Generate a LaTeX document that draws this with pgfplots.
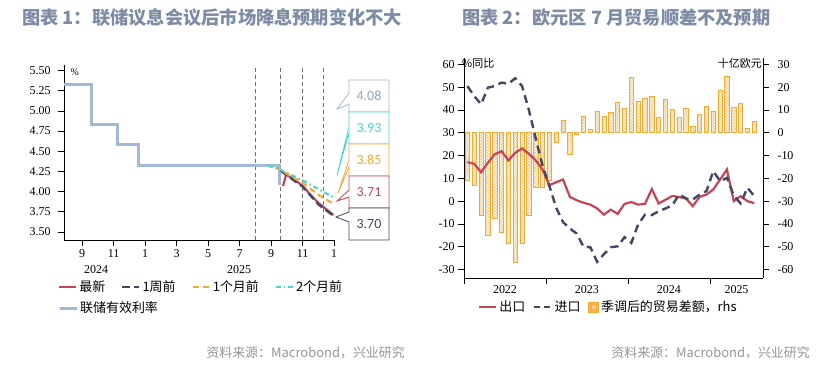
\documentclass[border=0pt]{standalone}
\usepackage{fontspec}
\setmainfont{Liberation Serif}
\newfontfamily\cjk{Noto Sans CJK SC}
\newfontfamily\boxfont{Carlito}
\usepackage{pgfplots}
\usepackage{pgfplotstable}
\pgfplotsset{compat=1.18}
\usetikzlibrary{patterns}

\definecolor{titlec}{RGB}{125,140,165}
\definecolor{srcc}{RGB}{150,150,150}
\definecolor{redc}{RGB}{200,68,85}
\definecolor{navyc}{RGB}{64,72,100}
\definecolor{orangec}{RGB}{245,168,50}
\definecolor{tealc}{RGB}{72,214,208}
\definecolor{fedc}{RGB}{160,185,212}
\definecolor{vgray}{RGB}{110,110,110}

\pgfplotstableread{
x bal exp imp
0.5 -20.9 17.1 50.5
1.5 -23.1 16.4 46.1
2.5 -36.2 12.7 42.5
3.5 -45.1 16.8 49.8
4.5 -37.6 20.6 50.5
5.5 -43.6 21.9 52.0
6.5 -48.3 17.9 51.5
7.5 -56.7 21.2 53.9
8.5 -48.6 23.1 50.5
9.5 -36.2 20.8 40.0
10.5 -23.9 17.9 27.5
11.5 -23.9 13.9 15.7
12.5 -20.9 7.0 6.6
13.5 -4.4 8.3 -2.9
14.5 5.4 9.5 -9.2
15.5 -9.5 1.9 -12.0
16.5 -0.5 0.4 -14.2
17.5 7.0 -0.7 -20.0
18.5 1.3 -1.5 -20.2
19.5 9.2 -3.2 -26.6
20.5 7.2 -5.9 -23.2
21.5 9.1 -3.7 -20.2
22.5 13.2 -5.6 -19.8
23.5 10.5 -1.2 -15.8
24.5 24.3 -0.4 -18.3
25.5 13.9 -1.5 -10.2
26.5 14.9 -1.2 -5.9
27.5 16.0 5.3 -6.1
28.5 6.7 -1.0 -4.4
29.5 14.5 0.6 -3.2
30.5 10.1 2.3 -1.8
31.5 6.9 1.8 2.9
32.5 10.7 1.2 1.2
33.5 2.9 -2.2 0.7
34.5 8.1 1.9 2.9
35.5 11.7 2.9 4.4
36.5 9.4 5.1 13.2
37.5 18.6 9.5 8.8
38.5 24.9 13.9 10.2
39.5 11.3 0.0 2.5
40.5 12.7 2.2 -1.0
41.5 1.8 0.0 5.9
42.5 4.8 -0.9 2.2
}\tradetab

\pgfplotsset{
  leftax/.style={scale only axis, width=271bp, height=175bp,
    xmin=6.857, xmax=24.05, ymin=3.40, ymax=5.57,
    at={(64bp,-240bp)}, anchor=south west, clip=false},
  rightax/.style={scale only axis, width=299bp, height=220bp,
    xmin=0, xmax=43.78,
    at={(464bp,-278bp)}, anchor=south west},
  ticky/.style={tick align=outside, major tick length=6bp,
    tick style={black, line width=0.7bp},
    axis line style={black, line width=0.7bp, -},
    tick label style={font=\fontsize{12}{14}\selectfont, /pgf/number format/assume math mode=true}},
}

\begin{document}
\begin{tikzpicture}
\path[use as bounding box, fill=white] (0,0) rectangle (832bp,-365bp);

% ---------------- Left chart ----------------
\begin{axis}[leftax, ticky,
  axis x line*=bottom, axis y line*=left,
  xtick={8,10,12,14,16,18,20,22,24},
  xticklabels={9,11,1,3,5,7,9,11,1},
  extra x ticks={8.89,17.97},
  extra x tick labels={2024,2025},
  extra x tick style={major tick length=0pt, xticklabel style={yshift=-22bp}},
  ytick={3.5,3.75,4,4.25,4.5,4.75,5,5.25,5.5},
  yticklabel style={xshift=-4bp, /pgf/number format/.cd, fixed, fixed zerofill, precision=2},
  legend style={at={(-0.022,-0.389)}, anchor=west, draw=none, fill=none,
    font=\cjk\fontsize{13}{15}\selectfont, inner sep=0pt},
  legend cell align=left,
]
\addplot[vgray, line width=0.8bp, dash pattern=on 4bp off 3bp, forget plot] coordinates {(18.98,3.40) (18.98,5.57)};
\addplot[vgray, line width=0.8bp, dash pattern=on 4bp off 3bp, forget plot] coordinates {(20.57,3.40) (20.57,5.57)};
\addplot[vgray, line width=0.8bp, dash pattern=on 4bp off 3bp, forget plot] coordinates {(21.97,3.40) (21.97,5.57)};
\addplot[vgray, line width=0.8bp, dash pattern=on 4bp off 3bp, forget plot] coordinates {(23.30,3.40) (23.30,5.57)};
\addplot[fedc, line width=3bp] coordinates {(6.857,5.33) (8.57,5.33) (8.57,4.83) (10.23,4.83) (10.23,4.58) (11.58,4.58) (11.58,4.33) (20.55,4.33) (20.55,4.08)};
\addlegendentry{联储有效利率}
\end{axis}

\begin{axis}[leftax, hide axis,
  legend columns=4,
  legend style={at={(-0.022,-0.269)}, anchor=west, draw=none, fill=none,
    font=\cjk\fontsize{13}{15}\selectfont, inner sep=0pt,
    /tikz/every even column/.append style={column sep=14bp}},
  legend cell align=left,
]
\addplot[redc, line width=2.2bp] coordinates {(20.75,4.07) (20.95,4.21) (21.4,4.16) (22.0,4.07) (22.5,3.96) (23.0,3.86) (23.95,3.71)};
\addplot[navyc, line width=2.2bp, dash pattern=on 8bp off 4bp] coordinates {(20.6,4.26) (21.0,4.20) (22.0,4.06) (22.5,3.95) (23.0,3.84) (23.95,3.70)};
\addplot[orangec, line width=2.2bp, dash pattern=on 6bp off 4bp] coordinates {(20.3,4.30) (21.0,4.22) (22.0,4.11) (23.0,3.96) (23.95,3.85)};
\addplot[tealc, line width=2.2bp, dash pattern=on 5bp off 3bp on 1.5bp off 3bp] coordinates {(19.8,4.32) (20.5,4.28) (21.0,4.23) (22.0,4.14) (23.0,4.03) (23.95,3.93)};
\legend{最新,1周前,1个月前,2个月前}
\end{axis}

% callout boxes
\begin{scope}[line width=0.8bp]
\filldraw[fill=white, draw=fedc] (349bp,-80bp) -- (389bp,-80bp) -- (389bp,-112bp) -- (349bp,-112bp) -- (349bp,-104bp) -- (337bp,-109bp) -- (349bp,-93bp) -- cycle;
\filldraw[fill=white, draw=tealc] (349bp,-112bp) -- (389bp,-112bp) -- (389bp,-144bp) -- (349bp,-144bp) -- (349bp,-133bp) -- (337bp,-175bp) -- (349bp,-127bp) -- cycle;
\filldraw[fill=white, draw=orangec] (349bp,-144bp) -- (389bp,-144bp) -- (389bp,-176bp) -- (349bp,-176bp) -- (349bp,-167bp) -- (338bp,-193bp) -- (349bp,-160bp) -- cycle;
\filldraw[fill=white, draw=redc] (349bp,-176bp) -- (389bp,-176bp) -- (389bp,-208bp) -- (349bp,-208bp) -- (349bp,-197bp) -- (337bp,-201bp) -- (349bp,-190bp) -- cycle;
\filldraw[fill=white, draw=navyc] (349bp,-208bp) -- (389bp,-208bp) -- (389bp,-240bp) -- (349bp,-240bp) -- (349bp,-222bp) -- (336bp,-217bp) -- (349bp,-212bp) -- cycle;
\end{scope}
\node[font=\boxfont\fontsize{14}{16}\selectfont, text=fedc!90!black] at (369bp,-96bp) {4.08};
\node[font=\boxfont\fontsize{14}{16}\selectfont, text=tealc] at (369bp,-128bp) {3.93};
\node[font=\boxfont\fontsize{14}{16}\selectfont, text=orangec] at (369bp,-160bp) {3.85};
\node[font=\boxfont\fontsize{14}{16}\selectfont, text=redc] at (369bp,-192bp) {3.71};
\node[font=\boxfont\fontsize{14}{16}\selectfont, text=navyc] at (369bp,-224bp) {3.70};
\node[font=\fontsize{10}{12}\selectfont, anchor=west] at (67bp,-72bp) {\%};

% ---------------- Right chart ----------------
\begin{axis}[rightax, ticky,
  ymin=-63.7, ymax=32.8,
  axis y line*=right, axis x line=none,
  ytick={-60,-50,-40,-30,-20,-10,0,10,20,30},
  yticklabel style={xshift=5bp},
  legend columns=-1,
  legend style={at={(0.047,-0.132)}, anchor=west, draw=none, fill=none,
    font=\cjk\fontsize{13}{15}\selectfont, inner sep=0pt,
    /tikz/every even column/.append style={column sep=6bp}},
]
\addlegendimage{redc, line width=2.2bp}
\addlegendentry{出口}
\addlegendimage{navyc, line width=2.2bp, dash pattern=on 6bp off 4bp}
\addlegendentry{进口}
\addplot[ybar, bar width=4.3bp, draw=orangec, line width=0.7bp, fill=white,
  postaction={pattern=north east lines, pattern color=orangec!70},
  postaction={pattern=north west lines, pattern color=orangec!70},
  legend image code/.code={\draw[fill=orangec, draw=orangec] (0bp,-5bp) rectangle (10bp,5bp);
     \draw[fill=orangec!40, draw=none] (2.5bp,-2.5bp) rectangle (7.5bp,2.5bp);}]
  table[x=x, y=bal] {\tradetab};
\addlegendentry{季调后的贸易差额，rhs}
\end{axis}

\begin{axis}[rightax, ticky,
  ymin=-33.7, ymax=62.8,
  axis x line*=bottom, axis y line*=left,
  xtick={0,12,24,36}, xticklabels={},
  extra x ticks={6,18,30,39.9},
  extra x tick labels={2022,2023,2024,2025},
  extra x tick style={major tick length=0pt, xticklabel style={yshift=-4bp}},
  ytick={-30,-20,-10,0,10,20,30,40,50,60},
]
\addplot[redc, line width=2.2bp] table[x=x, y=exp] {\tradetab};
\addplot[navyc, line width=2.4bp, dash pattern=on 8bp off 5bp] table[x=x, y=imp] {\tradetab};
\end{axis}

\node[font=\cjk\fontsize{11}{13}\selectfont, anchor=west, inner sep=0pt] at (462bp,-63bp) {\%同比};
\node[font=\cjk\fontsize{11}{13}\selectfont, anchor=east, inner sep=0pt] at (762bp,-63bp) {十亿欧元};

% titles and sources
\node[font=\cjk\bfseries\fontsize{18.3}{20}\selectfont, text=titlec, anchor=west, inner sep=0pt] at (22bp,-18bp) {图表 1：联储议息会议后市场降息预期变化不大};
\node[font=\cjk\bfseries\fontsize{18.3}{20}\selectfont, text=titlec, anchor=west, inner sep=0pt] at (462bp,-18bp) {图表 2：欧元区 7 月贸易顺差不及预期};
\node[font=\cjk\fontsize{13}{15}\selectfont, text=srcc, anchor=east, inner sep=0pt] at (405bp,-353bp) {资料来源：Macrobond，兴业研究};
\node[font=\cjk\fontsize{13}{15}\selectfont, text=srcc, anchor=east, inner sep=0pt] at (810bp,-353bp) {资料来源：Macrobond，兴业研究};
\end{tikzpicture}
\end{document}
